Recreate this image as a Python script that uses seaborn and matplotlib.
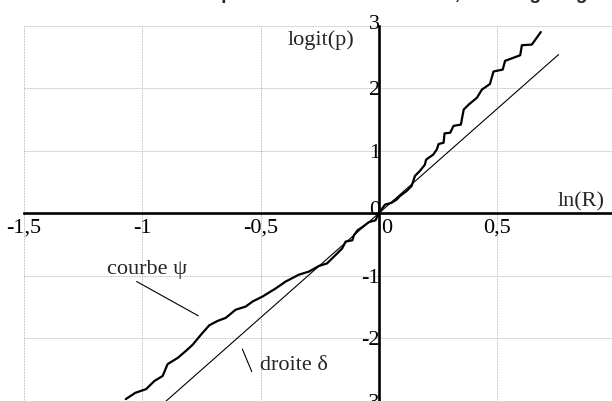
import matplotlib
matplotlib.use("Agg")
import matplotlib.pyplot as plt
import matplotlib.transforms as mtransforms
import numpy as np
import pandas as pd
import seaborn as sns

# Tick positions and their French-formatted labels
x_ticks = [-1.5, -1.0, -0.5, 0.0, 0.5]
x_tick_labels = ["-1,5", "-1", "-0,5", "0", "0,5"]
y_ticks = [-3, -2, -1, 0, 1, 2, 3]
y_tick_labels = ["-3", "-2", "-1", "0", "1", "2", "3"]

# Empirical curve psi: logit(p) against ln(R)
psi_x = [-1.07, -1.03, -0.984, -0.949, -0.914, -0.893, -0.85, -0.816, -0.787,
         -0.752, -0.717, -0.682, -0.647, -0.605, -0.563, -0.534, -0.492,
         -0.436, -0.394, -0.338, -0.295, -0.253, -0.219, -0.176, -0.155,
         -0.14, -0.112, -0.105, -0.09, -0.07, -0.042, -0.014, 0.0, 0.026,
         0.054, 0.075, 0.09, 0.118, 0.139, 0.153, 0.174, 0.195, 0.20, 0.23,
         0.245, 0.253, 0.274, 0.278, 0.302, 0.316, 0.347, 0.359, 0.38, 0.415,
         0.436, 0.47, 0.485, 0.524, 0.534, 0.563, 0.598, 0.605, 0.647, 0.685]
psi_y = [-2.97, -2.87, -2.81, -2.68, -2.60, -2.41, -2.31, -2.20, -2.10,
         -1.94, -1.79, -1.72, -1.67, -1.54, -1.49, -1.41, -1.33,
         -1.20, -1.09, -0.98, -0.93, -0.84, -0.80, -0.64, -0.56,
         -0.45, -0.43, -0.35, -0.27, -0.22, -0.14, -0.11, 0.0, 0.14,
         0.17, 0.22, 0.28, 0.36, 0.44, 0.60, 0.68, 0.78, 0.86, 0.94,
         1.02, 1.11, 1.13, 1.28, 1.29, 1.40, 1.42, 1.66, 1.74, 1.85,
         1.98, 2.07, 2.27, 2.30, 2.44, 2.48, 2.53, 2.69, 2.70, 2.90]

# Straight line delta through the origin
delta_x = [-0.95, 0.76]
delta_y = [-3.17, 2.54]

serif = "Liberation Serif"
sns.set_style("white")
plt.rcParams["font.family"] = [serif, "DejaVu Serif"]

fig = plt.figure(figsize=(6.12, 4.01), dpi=100)
ax = fig.add_axes([0, 0, 1, 1])
x_lo, x_hi = -1.6017, 0.9861
y_lo, y_hi = -2.982, 3.413
ax.set_xlim(x_lo, x_hi)
ax.set_ylim(y_lo, y_hi)
ax.set_facecolor("white")

# Dotted grid limited to the quadrant box starting at x=-1.5 and y=3
grid_kw = dict(color="#b8b8b8", linewidth=0.6, linestyle=(0, (2, 1.2)), zorder=0)
ax.vlines(x_ticks, y_lo, max(y_ticks), **grid_kw)
ax.hlines(y_ticks, min(x_ticks), x_hi, **grid_kw)

# Curves
psi_df = pd.DataFrame({"x": psi_x, "y": psi_y})
delta_df = pd.DataFrame({"x": delta_x, "y": delta_y})
sns.lineplot(data=psi_df, x="x", y="y", sort=False, estimator=None,
             color="black", linewidth=1.6, ax=ax, zorder=3)
sns.lineplot(data=delta_df, x="x", y="y", sort=False, estimator=None,
             color="black", linewidth=0.8, ax=ax, zorder=3)

# Axes crossing at the origin
for side in ("top", "right"):
    ax.spines[side].set_visible(False)
ax.spines["left"].set_position(("data", 0))
ax.spines["bottom"].set_position(("data", 0))
ax.spines["left"].set_bounds(y_lo, max(y_ticks))
ax.spines["bottom"].set_bounds(min(x_ticks), x_hi)
for side in ("left", "bottom"):
    ax.spines[side].set_linewidth(1.9)
    ax.spines[side].set_color("black")
    ax.spines[side].set_zorder(4)

ax.set_xticks(x_ticks)
ax.set_xticklabels(x_tick_labels)
ax.set_yticks(y_ticks)
ax.set_yticklabels(y_tick_labels)
ax.tick_params(axis="both", direction="inout", length=7.5, width=1.1,
               color="black", labelsize=16, labelcolor="black")
ax.tick_params(axis="x", pad=0)
ax.tick_params(axis="y", pad=-4.5)
ax.set_xlabel("")
ax.set_ylabel("")

# Nudge the two zero labels off the crossing axes and lift the top label
for lab, t in zip(ax.get_xticklabels(), x_ticks):
    if t == 0:
        lab.set_transform(lab.get_transform() + mtransforms.ScaledTranslation(8 / 100, 0, fig.dpi_scale_trans))
for lab, t in zip(ax.get_yticklabels(), y_ticks):
    if t == 0:
        lab.set_transform(lab.get_transform() + mtransforms.ScaledTranslation(0, 5 / 100, fig.dpi_scale_trans))
    if t == 3:
        lab.set_transform(lab.get_transform() + mtransforms.ScaledTranslation(0, 4 / 100, fig.dpi_scale_trans))

# Axis names
ax.text(-0.384, 2.775, "logit(p)", fontsize=16, va="center", ha="left")
ax.text(0.758, 0.19, "ln(R)", fontsize=16, va="center", ha="left")

# Curve annotations with leader lines
ax.text(-1.151, -0.904, "courbe ψ", fontsize=16, va="center", ha="left")
ax.plot([-1.024, -0.763], [-1.089, -1.638], color="black", linewidth=0.8)
ax.text(-0.502, -2.44, "droite δ", fontsize=16, va="center", ha="left")
ax.plot([-0.577, -0.537], [-2.169, -2.531], color="black", linewidth=0.8)

# Title sitting above the visible frame
fig.text(0.322, 1.0 + 1.2 / 401, "Représentation des données, axes logit-log",
         fontsize=13.6, fontweight="bold", family="Liberation Sans",
         ha="left", va="baseline")

fig.savefig("out.png", dpi=100)
